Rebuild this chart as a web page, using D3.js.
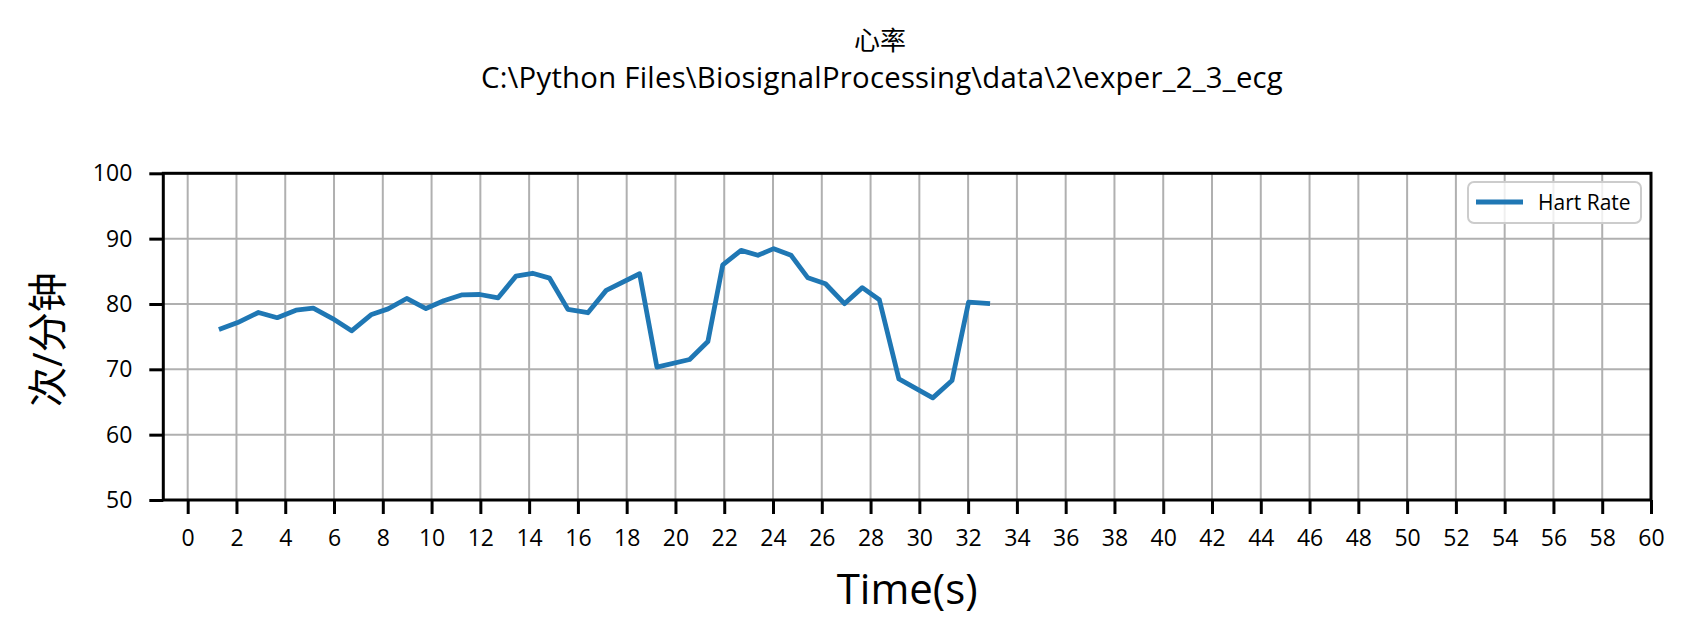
<!DOCTYPE html>
<html>
<head>
<meta charset="utf-8">
<script src="https://cdn.jsdelivr.net/npm/d3@7"></script>
<style>
  html, body { margin: 0; padding: 0; background: #fff; }
  svg { display: block; }
  text { font-family: "Open Sans", "Noto Sans CJK SC", sans-serif; fill: #000; }
</style>
</head>
<body>
<svg id="chart" width="1695" height="644"></svg>
<script>
// ---- data ----
const timeValues = [1.28, 2.05, 2.9, 3.67, 4.44, 5.15, 5.94, 6.72, 7.54, 8.22, 8.98, 9.77, 10.5, 11.26, 11.98, 12.73, 13.46, 14.14, 14.84, 15.59, 16.41, 17.16, 18.53, 19.24, 20.58, 21.33, 21.94, 22.69, 23.38, 24.03, 24.74, 25.43, 26.15, 26.93, 27.66, 28.36, 29.16, 30.55, 31.34, 32.02, 32.9];
const heartRate = [76.1, 77.16, 78.7, 77.9, 79.05, 79.35, 77.77, 75.9, 78.4, 79.25, 80.84, 79.3, 80.5, 81.4, 81.45, 80.94, 84.26, 84.7, 83.95, 79.17, 78.66, 82.08, 84.63, 70.33, 71.5, 74.26, 86.0, 88.2, 87.45, 88.47, 87.45, 84.0, 83.1, 80.04, 82.5, 80.65, 68.54, 65.63, 68.28, 80.29, 80.04];
const xTicks = d3.range(0, 61, 2);
const yTicks = [50, 60, 70, 80, 90, 100];
const titleLine1 = "心率";
const titleLine2 = "C:\\Python Files\\BiosignalProcessing\\data\\2\\exper_2_3_ecg";
const xLabel = "Time(s)";
const yLabel = "次/分钟";
const seriesName = "Hart Rate";

// ---- layout ----
const svg = d3.select("#chart");
const L = 163.3, R = 1651, T = 173.3, B = 500;
const x = d3.scaleLinear().domain([-1, 60]).range([L, R]);
const y = d3.scaleLinear().domain([50, 100]).range([B, T]);
const lineColor = "#1f77b4";
const gridColor = "#b0b0b0";

// grid
const grid = svg.append("g");
grid.selectAll("line.vx").data(xTicks).join("line")
  .attr("x1", d => x(d)).attr("x2", d => x(d)).attr("y1", T).attr("y2", B)
  .attr("stroke", gridColor).attr("stroke-width", 2);
grid.selectAll("line.hy").data(yTicks).join("line")
  .attr("x1", L).attr("x2", R).attr("y1", d => y(d)).attr("y2", d => y(d))
  .attr("stroke", gridColor).attr("stroke-width", 2);

// line
const pts = timeValues.map((t, i) => [t, heartRate[i]]);
svg.append("path").datum(pts)
  .attr("fill", "none").attr("stroke", lineColor).attr("stroke-width", 4.8)
  .attr("stroke-linejoin", "round").attr("stroke-linecap", "butt")
  .attr("d", d3.line().x(d => x(d[0])).y(d => y(d[1])));

// axes
const xAxis = svg.append("g").attr("transform", `translate(0,${B})`)
  .call(d3.axisBottom(x).tickValues(xTicks).tickFormat(d3.format("d")).tickSize(14).tickPadding(16));
const yAxis = svg.append("g").attr("transform", `translate(${L},0)`)
  .call(d3.axisLeft(y).tickValues(yTicks).tickFormat(d3.format("d")).tickSize(14).tickPadding(17));
[xAxis, yAxis].forEach(a => {
  a.select(".domain").remove();
  a.selectAll(".tick line").attr("stroke", "#000").attr("stroke-width", 3);
  a.selectAll(".tick text").attr("font-size", 23).attr("font-family", "\"Open Sans\", sans-serif").attr("fill", "#000");
});

// spines
svg.append("rect").attr("x", L).attr("y", T).attr("width", R - L).attr("height", B - T)
  .attr("fill", "none").attr("stroke", "#000").attr("stroke-width", 3);

// title (one text, two lines)
const title = svg.append("text").attr("text-anchor", "middle");
title.append("tspan").attr("x", 880).attr("y", 50)
  .attr("font-size", 26).attr("font-family", "\"Noto Sans CJK SC\", sans-serif").text(titleLine1);
title.append("tspan").attr("x", 882).attr("y", 88)
  .attr("font-size", 29.3).attr("letter-spacing", 0.25).text(titleLine2);

// axis labels
svg.append("text").attr("x", (L + R) / 2).attr("y", 604).attr("text-anchor", "middle")
  .attr("font-size", 42).text(xLabel);
svg.append("text").attr("transform", `translate(62,${(T + B) / 2 + 3}) rotate(-90)`)
  .attr("text-anchor", "middle").attr("font-size", 40)
  .attr("font-family", "\"Noto Sans CJK SC\", sans-serif").text(yLabel);

// legend
const lg = svg.append("g");
lg.append("rect").attr("x", 1468).attr("y", 182).attr("width", 173).attr("height", 41)
  .attr("rx", 6).attr("fill", "#fff").attr("fill-opacity", 0.8)
  .attr("stroke", "#cccccc").attr("stroke-width", 2);
lg.append("line").attr("x1", 1476).attr("x2", 1523).attr("y1", 202).attr("y2", 202)
  .attr("stroke", lineColor).attr("stroke-width", 4.8);
lg.append("text").attr("x", 1538).attr("y", 209.5).attr("font-size", 21).text(seriesName);
</script>
</body>
</html>
